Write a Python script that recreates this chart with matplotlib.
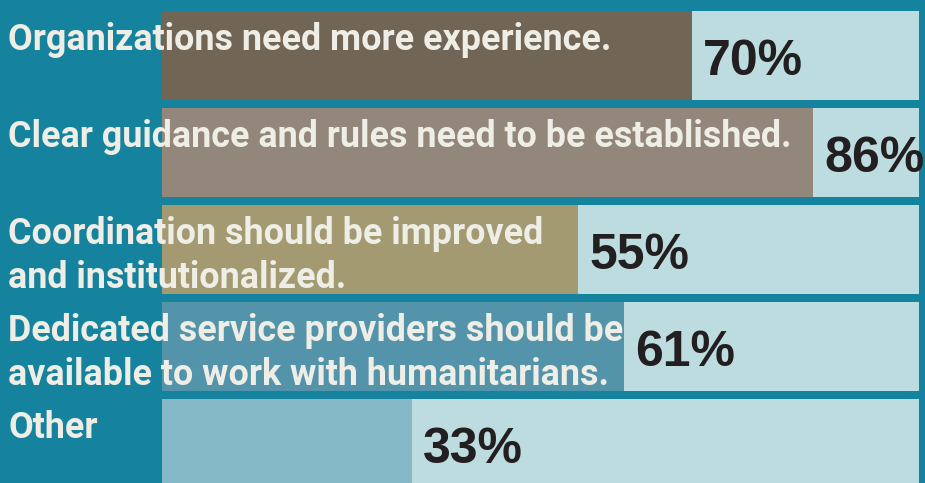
import matplotlib.pyplot as plt
from matplotlib import font_manager

# survey answers, top to bottom
labels = [
    "Organizations need more experience.",
    "Clear guidance and rules need to be established.",
    "Coordination should be improved\nand institutionalized.",
    "Dedicated service providers should be\navailable to work with humanitarians.",
    "Other",
]
values = [70, 86, 55, 61, 33]
bar_colors = ["#716556", "#93877c", "#a39a72", "#5494ab", "#86b9c8"]

BG = "#16839e"
TRACK = "#bddcdf"
LABEL_COLOR = "#eeede6"
PCT_COLOR = "#231f20"

# pick a condensed bold font for the labels if it is there
names = {f.name for f in font_manager.fontManager.ttflist}
if "Liberation Sans Narrow" in names:
    label_family, label_size = ["Liberation Sans Narrow", "DejaVu Sans"], 24
else:
    label_family, label_size = ["Roboto", "DejaVu Sans"], 25.8

W, H = 925, 483
fig = plt.figure(figsize=(W / 100, H / 100), dpi=100, facecolor=BG)
ax = fig.add_axes([0, 0, 1, 1])
ax.set_facecolor(BG)

# map pixels to data: 0% at x=162px, 100% at x=919px; rows 97px apart
px_per_pct = 7.57
x0_px = 162
ax.set_xlim(-x0_px / px_per_pct, (W - x0_px) / px_per_pct)
pitch = 97
ax.set_ylim((H - 55.5) / pitch, -55.5 / pitch)

rows = list(range(len(values)))
bar_h = 89 / pitch

ax.barh(rows, [100] * len(values), height=bar_h, color=TRACK, zorder=1)
ax.barh(rows, values, height=bar_h, color=bar_colors, zorder=2)

for r, v, lab in zip(rows, values, labels):
    ax.text(v + 1.5, r + 0.07, f"{v}%", ha="left", va="center",
            fontsize=36, fontweight="bold", family=["Liberation Sans", "DejaVu Sans"],
            color=PCT_COLOR, zorder=3)
    ax.text(-x0_px / px_per_pct + 8 / px_per_pct, r - bar_h / 2 + 0.115, lab,
            ha="left", va="top", fontsize=label_size, fontweight="bold", family=label_family,
            color=LABEL_COLOR, linespacing=1.27, zorder=4)

ax.axis("off")
fig.savefig("out.png", dpi=100, facecolor=BG)
